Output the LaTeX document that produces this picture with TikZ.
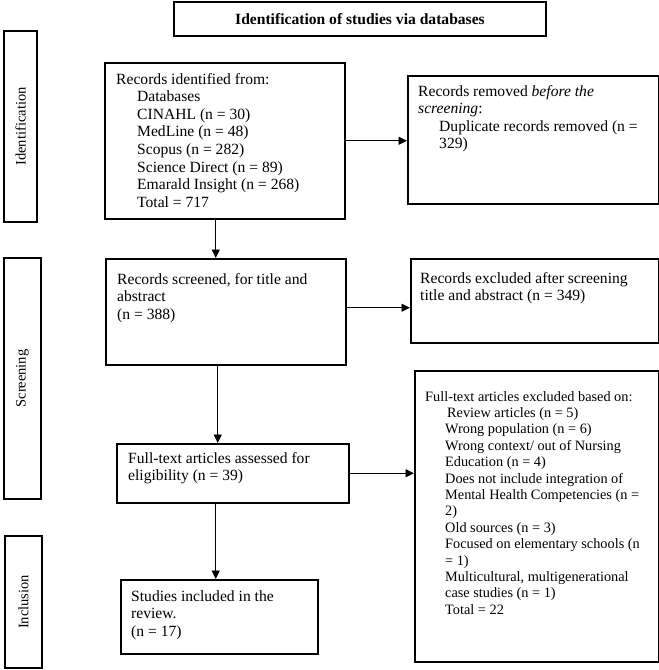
\documentclass[tikz,border=0pt]{standalone}
\usepackage{fontspec}
\setmainfont{Liberation Serif}
\usetikzlibrary{arrows.meta,calc}

\tikzset{
  box/.style={draw, line width=1.5pt, anchor=north west, inner sep=0pt},
  txt/.style={anchor=north west, align=left, inner sep=0pt,
    font=\fontsize{15.6}{17.6}\selectfont},
  small/.style={txt, font=\fontsize{14.3}{16.4}\selectfont},
  phase/.style={box, anchor=center, rotate=90,
    font=\fontsize{14.5}{17}\selectfont},
  arr/.style={-{Triangle[length=8.5pt,width=8pt]}, line width=0.9pt}
}
\newcommand{\ind}{\hspace*{21pt}}

\begin{document}
\begin{tikzpicture}[x=1pt,y=-1pt]
\useasboundingbox (0,0) rectangle (659,670);

% phases
\node[phase, minimum width=191, minimum height=33] (idph) at (20.5,126.5) {Identification};
\node[phase, minimum width=241, minimum height=37] (scph) at (22.5,378.5) {Screening};
\node[phase, minimum width=132, minimum height=37] (inph) at (23.5,602) {Inclusion};

% title
\node[box, anchor=center, minimum width=372, minimum height=34,
  font=\fontsize{15.6}{17.6}\selectfont\bfseries] (title) at (360,19)
  {Identification of studies via databases};

% boxes
\node[box, minimum width=240, minimum height=156] (ident) at (104,62) {};
\node[box, minimum width=251, minimum height=128] (removed) at (407,75) {};
\node[box, minimum width=240, minimum height=106] (screen) at (105,258) {};
\node[box, minimum width=248, minimum height=84] (excl) at (410,258) {};
\node[box, minimum width=232, minimum height=59] (assess) at (116,443) {};
\node[box, minimum width=244, minimum height=291] (ftexcl) at (414,370) {};
\node[box, minimum width=197, minimum height=74] (incl) at (120,579) {};

% texts
\node[txt] (ident-t) at ([shift={(12,11)}]ident.north west)
  {Records identified from:\\
   \ind Databases\\
   \ind CINAHL (n = 30)\\
   \ind MedLine (n = 48)\\
   \ind Scopus (n = 282)\\
   \ind Science Direct (n = 89)\\
   \ind Emarald Insight (n = 268)\\
   \ind Total = 717};
\node[txt] (removed-t) at ([shift={(11,10)}]removed.north west)
  {Records removed \textit{before the}\\
   \textit{screening}:\\
   \ind Duplicate records removed (n =\\
   \ind 329)};
\node[txt] (screen-t) at ([shift={(12,15)}]screen.north west)
  {Records screened, for title and\\
   abstract\\
   (n = 388)};
\node[txt] (excl-t) at ([shift={(10,14)}]excl.north west)
  {Records excluded after screening\\
   title and abstract (n = 349)};
\node[txt] (assess-t) at ([shift={(12,9)}]assess.north west)
  {Full-text articles assessed for\\
   eligibility (n = 39)};
\node[small] (ftexcl-t) at ([shift={(11,21)}]ftexcl.north west)
  {Full-text articles excluded based on:\\
   \hspace*{22pt}Review articles (n = 5)\\
   \hspace*{20pt}Wrong population (n = 6)\\
   \hspace*{20pt}Wrong context/ out of Nursing\\
   \hspace*{20pt}Education (n = 4)\\
   \hspace*{20pt}Does not include integration of\\
   \hspace*{20pt}Mental Health Competencies (n =\\
   \hspace*{20pt}2)\\
   \hspace*{20pt}Old sources (n = 3)\\
   \hspace*{20pt}Focused on elementary schools (n\\
   \hspace*{20pt}= 1)\\
   \hspace*{20pt}Multicultural, multigenerational\\
   \hspace*{20pt}case studies (n = 1)\\
   \hspace*{20pt}Total = 22};
\node[txt] (incl-t) at ([shift={(11,11)}]incl.north west)
  {Studies included in the\\
   review.\\
   (n = 17)};

% arrows
\draw[arr] (ident.east) -- (ident.east -| removed.west);
\draw[arr] ([xshift=-9pt]ident.south) -- ([xshift=-9pt]ident.south |- screen.north);
\draw[arr] ([yshift=4pt]screen.east) -- ([yshift=4pt]screen.east -| excl.west);
\draw[arr] ([xshift=-8pt]screen.south) -- ([xshift=-8pt]screen.south |- assess.north);
\draw[arr] (assess.east) -- (assess.east -| ftexcl.west);
\draw[arr] ([xshift=-17pt]assess.south) -- ([xshift=-17pt]assess.south |- incl.north);

\end{tikzpicture}
\end{document}
